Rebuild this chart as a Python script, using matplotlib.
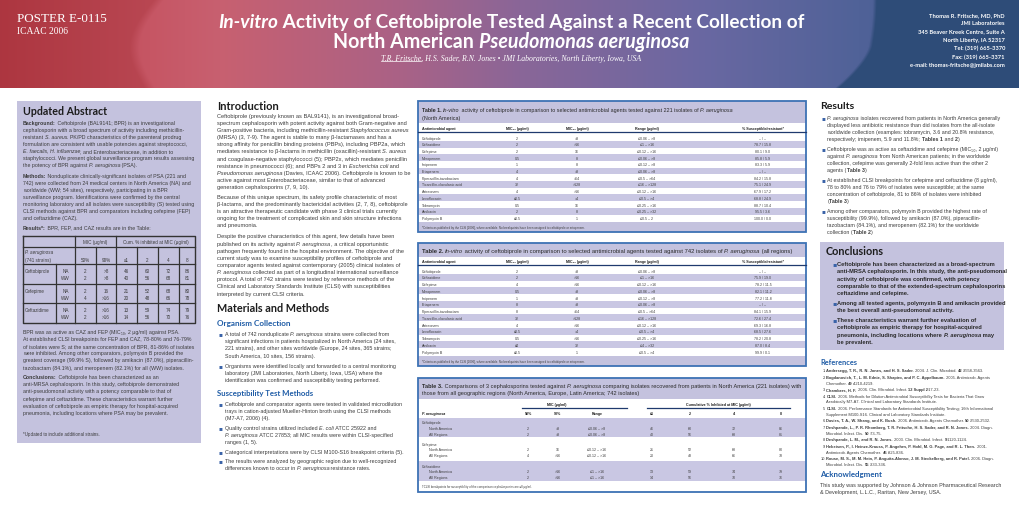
import matplotlib
matplotlib.use('Agg')
import matplotlib.pyplot as plt
import numpy as np
from matplotlib.patches import Rectangle

# ---------------- data ----------------
agents = ['Ceftobiprole', 'Ceftazidime', 'Cefepime', 'Meropenem', 'Imipenem', 'Ertapenem',
          'Piperacillin-tazobactam', 'Ticarcillin-clavulanic acid', 'Aztreonam', 'Levofloxacin',
          'Tobramycin', 'Amikacin', 'Polymyxin B']
t1_mic50 = ['2', '2', '2', '0.5', '1', '4', '4', '32', '4', '≤0.5', '0.5', '2', '≤0.5']
t1_mic90 = ['>8', '>16', '16', '8', '8', '>8', '>64', '>128', '>16', '>4', '16', '8', '1']
t1_range = ['≤0.06 – >8', '≤1 – >16', '≤0.12 – >16', '≤0.06 – >8', '≤0.12 – >8', '≤0.06 – >8',
            '≤0.5 – >64', '≤16 – >128', '≤0.12 – >16', '≤0.5 – >4', '≤0.25 – >16', '≤0.25 – >32', '≤0.5 – 2']
t1_sr = ['– / –', '78.7 / 15.8', '80.1 / 9.0', '85.8 / 5.9', '83.3 / 5.9', '– / –', '84.2 / 15.8',
         '75.1 / 24.9', '67.9 / 17.2', '68.8 / 24.9', '88.7 / 10.4', '95.5 / 3.6', '100.0 / 0.0']
t2_mic50 = ['2', '2', '4', '0.5', '1', '8', '8', '32', '4', '≤0.5', '0.5', '≤4', '≤0.5']
t2_mic90 = ['>8', '>16', '>16', '>8', '>8', '>8', '>64', '>128', '>16', '>4', '>16', '32', '1']
t2_range = ['≤0.06 – >8', '≤1 – >16', '≤0.12 – >16', '≤0.06 – >8', '≤0.12 – >8', '≤0.06 – >8',
            '≤0.5 – >64', '≤16 – >128', '≤0.12 – >16', '≤0.5 – >4', '≤0.25 – >16', '≤4 – >32', '≤0.5 – >4']
t2_sr = ['– / –', '75.9 / 19.0', '78.2 / 11.5', '82.1 / 11.2', '77.2 / 11.8', '– / –', '84.1 / 15.9',
         '72.6 / 27.4', '69.3 / 16.8', '68.5 / 27.6', '78.2 / 20.8', '87.0 / 8.4', '99.9 / 0.1']

t3_drugs = ['Ceftobiprole', 'Cefepime', 'Ceftazidime']
t3_regions = ['North America', 'All Regions']
abs_regions = ['NA', 'WW']
t3_mic50 = [['2', '2'], ['2', '4'], ['2', '2']]
t3_mic90 = [['>8', '>8'], ['16', '>16'], ['>16', '>16']]
t3_range = [['≤0.06 – >8', '≤0.06 – >8'], ['≤0.12 – >16', '≤0.12 – >16'], ['≤1 – >16', '≤1 – >16']]
cum_levels = ['≤1', '2', '4', '8']
t3_cum = [[[46, 60, 72, 86], [40, 56, 68, 81]],
          [[21, 52, 68, 80], [20, 48, 66, 78]],
          [[13, 59, 74, 79], [14, 56, 70, 76]]]

# ---------------- canvas ----------------
W, H = 1020, 510
fig = plt.figure(figsize=(10.2, 5.1), dpi=100)
fig.patch.set_facecolor('white')
ax = fig.add_axes([0, 0, 1, 1])
ax.set_xlim(0, W)
ax.set_ylim(H, 0)
ax.axis('off')
R = fig.canvas.get_renderer()

BODY = ['Liberation Sans', 'DejaVu Sans']
HEAD = ['Lato', 'DejaVu Sans']
SERIF = ['Liberation Serif', 'DejaVu Serif']
TXT = '#3c3c3c'
DARK = '#1c1c1c'
BLUE = '#1f5ca6'
LAV = '#c4c2de'
LAV2 = '#c9c7e3'
NAVY = '#1f3a6e'
EDGE = '#3d72b4'


def parse(s, bold=False, italic=False):
    runs, cur, b, i = [], '', bold, italic
    for ch in s:
        if ch in '_^':
            if cur:
                runs.append((cur, b, i))
            cur = ''
            if ch == '_':
                i = not i
            else:
                b = not b
        else:
            cur += ch
    if cur:
        runs.append((cur, b, i))
    return runs


def kw(b, i):
    return dict(fontweight='bold' if b else 'normal', fontstyle='italic' if i else 'normal')


def width_of(t, size, family, b, i):
    tt = ax.text(0, 0, t + '|', fontsize=size, family=family, **kw(b, i))
    w1 = tt.get_window_extent(R).width
    tt.set_text('|')
    w2 = tt.get_window_extent(R).width
    tt.remove()
    return w1 - w2


def fit_size(s, width, family=BODY, bold=False, italic=False, size0=10.0):
    runs = parse(s, bold, italic)
    tot = sum(width_of(t, size0, family, b, i) for t, b, i in runs)
    return size0 * width / tot


def draw(x, y, s, size, family=BODY, color=TXT, ha='left', bold=False, italic=False, width=None):
    runs = parse(s, bold, italic)
    if width is not None:
        size = fit_size(s, width, family, bold, italic)
    ws = [width_of(t, size, family, b, i) for t, b, i in runs]
    tot = sum(ws)
    x0 = x - tot / 2 if ha == 'center' else (x - tot if ha == 'right' else x)
    yb = y + 0.30 * size * 100 / 72
    cx = x0
    for (t, b, i), w in zip(runs, ws):
        ax.text(cx, yb, t, fontsize=size, family=family, color=color, va='baseline', ha='left', **kw(b, i))
        cx += w
    return x0, cx, size


def block(x, y0, lines, size, step, **k):
    y = y0
    for ln in lines:
        draw(x, y, ln, size, **k)
        y += step
    return y


# ---------------- header ----------------
HH = 89
xs = np.arange(W) + 0.5
stops_x = [0, 150, 220, 400, 520, 700, 860, 1020]
stops_c = [(184, 66, 78), (198, 86, 100), (200, 96, 112), (170, 98, 134), (138, 102, 152),
           (106, 104, 162), (80, 98, 152), (64, 90, 142)]
img = np.zeros((HH, W, 3))
for ch in range(3):
    img[:, :, ch] = np.interp(xs, stops_x, [c[ch] for c in stops_c])[None, :]
yy, xx = np.mgrid[0:HH, 0:W] + 0.5
# left reddish photo area
lb = 165 - 20 * np.sin(np.pi * yy / HH) - 10 * (yy / HH)
mL = np.clip((lb - xx) / 10, 0, 1)
img = img * (1 - mL[..., None] * 0.18) + mL[..., None] * np.array([22, 0, 0])
# right dark blue photo area
rb = np.where(yy < 45, 873 - 4 * (yy / 45) ** 2,
              869 - 34 * (np.clip(yy - 45, 0, None) / 44) ** 1.5)
mR = np.clip((xx - rb) / 4, 0, 1)
blue_dark = np.array([46, 76, 120])
img = img * (1 - mR[..., None]) + mR[..., None] * blue_dark
ax.imshow(np.clip(img, 0, 255).astype(np.uint8), extent=[0, W, HH, 0], aspect='auto',
          interpolation='bilinear', zorder=0)
ax.set_xlim(0, W)
ax.set_ylim(H, 0)

draw(17, 18, 'POSTER E-0115', 10, family=SERIF, color='white', width=90)
draw(17, 31.5, 'ICAAC 2006', 7, family=SERIF, color='white', width=51)
draw(511, 22, '_In-vitro_ Activity of Ceftobiprole Tested Against a Recent Collection of', 12,
     family=HEAD, color='white', bold=True, ha='center', width=588)
draw(511, 42, 'North American _Pseudomonas aeruginosa_', 12, family=HEAD, color='white',
     bold=True, ha='center', width=355)
ax0, ax1, asz = draw(511, 58.5, 'T.R. Fritsche, H.S. Sader, R.N. Jones • JMI Laboratories, North Liberty, Iowa, USA',
                     6, family=SERIF, color='white', italic=True, ha='center', width=258)
uw = width_of('T.R. Fritsche', asz, SERIF, False, True)
ax.plot([ax0, ax0 + uw], [61.5, 61.5], color='white', lw=0.5)

contact = ['Thomas R. Fritsche, MD, PhD', 'JMI Laboratories', '345 Beaver Kreek Centre, Suite A',
           'North Liberty, IA 52317', 'Tel: (319) 665-3370', 'Fax: (319) 665-3371',
           'e-mail: thomas-fritsche@jmilabs.com']
csz = fit_size(contact[2], 87, HEAD, bold=True)
for k, ln in enumerate(contact):
    draw(1005, 15 + 8.4 * k, ln, csz, family=HEAD, color='white', bold=True, ha='right')

# ---------------- abstract box ----------------
ax.add_patch(Rectangle((17, 102), 184, 342, facecolor=LAV, edgecolor='none', zorder=0))
draw(23, 112, 'Updated Abstract', 8, family=HEAD, color=DARK, bold=True, width=84)
asz = fit_size('staphylococci. We present global surveillance program results assessing', 171)
bg = ['^Background:^ Ceftobiprole (BAL9141; BPR) is an investigational',
      'cephalosporin with a broad spectrum of activity including methicillin-',
      'resistant _S. aureus_. PK/PD characteristics of the parenteral prodrug',
      'formulation are consistent with usable potencies against streptococci,',
      '_E. faecalis_, _H. influenzae_, and Enterobacteriaceae, in addition to',
      'staphylococci. We present global surveillance program results assessing',
      'the potency of BPR against _P. aeruginosa_ (PSA).']
block(23, 123, bg, asz, 7.15)
me = ['^Methods:^ Nonduplicate clinically-significant isolates of PSA (221 and',
      '742) were collected from 24 medical centers in North America (NA) and',
      'worldwide (WW; 54 sites), respectively, participating in a BPR',
      'surveillance program. Identifications were confirmed by the central',
      'monitoring laboratory and all isolates were susceptibility (S) tested using',
      'CLSI methods against BPR and comparators including cefepime (FEP)',
      'and ceftazidime (CAZ).']
block(23, 176, me, asz, 7.15)
draw(23, 228, '^Results*:^ BPR, FEP, and CAZ results are in the Table:', asz)

# abstract table
tx = [23, 56, 75, 96, 116, 137, 158, 179, 195]
ty = [237, 247.5, 265, 284.5, 304, 324]
lc = '#333333'
tsz = asz * 0.88
ax.plot([tx[0], tx[-1], tx[-1], tx[0], tx[0]], [ty[0], ty[0], ty[-1], ty[-1], ty[0]], color=lc, lw=1.0)
for yv in ty[1:-1]:
    ax.plot([tx[0], tx[-1]], [yv, yv], color=lc, lw=0.9)
for xv in [tx[2], tx[4]]:
    ax.plot([xv, xv], [ty[0], ty[-1]], color=lc, lw=0.9)
for xv in [tx[3], tx[5], tx[6], tx[7]]:
    ax.plot([xv, xv], [ty[1], ty[-1]], color=lc, lw=0.9)
ax.plot([tx[1], tx[1]], [ty[2], ty[-1]], color=lc, lw=0.9)
draw((tx[2] + tx[4]) / 2, 242.5, 'MIC (µg/ml)', tsz, ha='center')
draw((tx[4] + tx[-1]) / 2, 242.5, 'Cum. % inhibited at MIC (µg/ml)', tsz, ha='center')
draw(25, 253, '_P. aeruginosa_', tsz)
draw(25, 260.5, '(741 strains)', tsz)
hdrs = ['50%', '90%'] + cum_levels
for c, h in enumerate(hdrs):
    draw((tx[2 + c] + tx[3 + c]) / 2, 260.5, h, tsz, ha='center')
for g, drug in enumerate(t3_drugs):
    for r in range(2):
        yv = ty[2 + g] + 7 + 6.8 * r
        if r == 0:
            draw(25, yv, drug, tsz)
        draw((tx[1] + tx[2]) / 2, yv, abs_regions[r], tsz, ha='center')
        vals = [t3_mic50[g][r], t3_mic90[g][r]] + [str(v) for v in t3_cum[g][r]]
        for c, v in enumerate(vals):
            draw((tx[2 + c] + tx[3 + c]) / 2, yv, v, tsz, ha='center')

ab2 = ['BPR was as active as CAZ and FEP (MIC₅₀, 2 µg/ml) against PSA.',
       'At established CLSI breakpoints for FEP and CAZ, 78-80% and 76-79%',
       'of isolates were S; at the same concentration of BPR, 81-86% of isolates',
       'were inhibited. Among other comparators, polymyxin B provided the',
       'greatest coverage (99.9% S), followed by amikacin (87.0%), piperacillin-',
       'tazobactam (84.1%), and meropenem (82.1%) for all (WW) isolates.']
block(23, 332, ab2, asz, 7.2)
co = ['^Conclusions:^ Ceftobiprole has been characterized as an',
      'anti-MRSA cephalosporin. In this study, ceftobiprole demonstrated',
      'anti-pseudomonal activity with a potency comparable to that of',
      'cefepime and ceftazidime. These characteristics warrant further',
      'evaluation of ceftobiprole as empiric therapy for hospital-acquired',
      'pneumonia, including locations where PSA may be prevalent.']
block(23, 377.5, co, asz, 7.2)
draw(23, 435, '*Updated to include additional strains.', asz * 0.85)

# ---------------- introduction ----------------
draw(217, 107, 'Introduction', 8, family=HEAD, color=DARK, bold=True, width=62)
isz = fit_size('spectrum cephalosporin with potent activity against both Gram-negative and', 190)
p1 = ['Ceftobiprole (previously known as BAL9141), is an investigational broad-',
      'spectrum cephalosporin with potent activity against both Gram-negative and',
      'Gram-positive bacteria, including methicillin-resistant _Staphylococcus aureus_',
      '(MRSA) (3, 7-9). The agent is stable to many β-lactamases and has a',
      'strong affinity for penicillin binding proteins (PBPs), including PBP2a, which',
      'mediates resistance to β-lactams in methicillin (oxacillin)-resistant _S. aureus_',
      'and coagulase-negative staphylococci (5); PBP2x, which mediates penicillin',
      'resistance in pneumococci (6); and PBPs 2 and 3 in _Escherichia coli_ and',
      '_Pseudomonas aeruginosa_ (Davies, ICAAC 2006). Ceftobiprole is known to be',
      'active against most Enterobacteriaceae, similar to that of advanced',
      'generation cephalosporins (7, 9, 10).']
p2 = ['Because of this unique spectrum, its safety profile characteristic of most',
      'β-lactams, and the predominantly bactericidal activities (2, 7, 8), ceftobiprole',
      'is an attractive therapeutic candidate with phase 3 clinical trials currently',
      'ongoing for the treatment of complicated skin and skin structure infections',
      'and pneumonia.']
p3 = ['Despite the positive characteristics of this agent, few details have been',
      'published on its activity against _P. aeruginosa_, a critical opportunistic',
      'pathogen frequently found in the hospital environment. The objective of the',
      'current study was to examine susceptibility profiles of ceftobiprole and',
      'comparator agents tested against contemporary (2005) clinical isolates of',
      '_P. aeruginosa_ collected as part of a longitudinal international surveillance',
      'protocol. A total of 742 strains were tested by reference methods of the',
      'Clinical and Laboratory Standards Institute (CLSI) with susceptibilities',
      'interpreted by current CLSI criteria.']
block(217, 116, p1, isz, 7.15)
block(217, 197.2, p2, isz, 7.15)
block(217, 236.7, p3, isz, 7.15)

# ---------------- materials and methods ----------------
draw(217, 309, 'Materials and Methods', 8, family=HEAD, color=DARK, bold=True, width=112)
draw(217, 324, 'Organism Collection', 7, family=HEAD, color=BLUE, bold=True, width=74)
msz = fit_size('significant infections in patients hospitalized in North America (24 sites,', 168)


def bullets(xb, xt, items, size, step, gap, y0, color=TXT, bold=False, bcolor='#3a63a8', bsize=None):
    y = y0
    for item in items:
        draw(xb, y, '▪', bsize or size * 1.1, family=['DejaVu Sans'], color=bcolor)
        for ln in item:
            draw(xt, y, ln, size, color=color, bold=bold)
            y += step
        y += gap
    return y


mm1 = [['A total of 742 nonduplicate _P. aeruginosa_ strains were collected from',
        'significant infections in patients hospitalized in North America (24 sites,',
        '221 strains), and other sites worldwide (Europe, 24 sites, 365 strains;',
        'South America, 10 sites, 156 strains).'],
       ['Organisms were identified locally and forwarded to a central monitoring',
        'laboratory (JMI Laboratories, North Liberty, Iowa, USA) where the',
        'identification was confirmed and susceptibility testing performed.']]
bullets(218.5, 225, mm1, msz, 7.15, 2.9, 334.5)
draw(217, 394, 'Susceptibility Test Methods', 7, family=HEAD, color=BLUE, bold=True, width=97)
mm2 = [['Ceftobiprole and comparator agents were tested in validated microdilution',
        'trays in cation-adjusted Mueller-Hinton broth using the CLSI methods',
        '(M7-A7, 2006) (4).'],
       ['Quality control strains utilized included _E. coli_ ATCC 25922 and',
        '_P. aeruginosa_ ATCC 27853; all MIC results were within CLSI-specified',
        'ranges (1, 5).'],
       ['Categorical interpretations were by CLSI M100-S16 breakpoint criteria (5).'],
       ['The results were analyzed by geographic region due to well-recognized',
        'differences known to occur in _P. aeruginosa_ resistance rates.']]
bullets(218.5, 225, mm2, msz, 7.15, 2.5, 404)

# ---------------- tables 1 and 2 ----------------
TX0, TX1 = 418, 806
col_c = [517, 577, 647, 763]
ttsz = fit_size('Piperacillin-tazobactam', 38)


def table12(y0, y1, band_bot, title_lines, title_w, hdr_y, row_y0, row_step, mic50, mic90, rng, sr, foot_top):
    ax.add_patch(Rectangle((TX0, y0), TX1 - TX0, band_bot - y0, facecolor=LAV, edgecolor='none'))
    ax.add_patch(Rectangle((TX0, foot_top), TX1 - TX0, y1 - foot_top, facecolor=LAV, edgecolor='none'))
    tsz_ = fit_size(title_lines[0][0], title_w)
    for ln, yv in title_lines:
        draw(422, yv, ln, tsz_, color='#2a2a2a')
    draw(422, hdr_y, 'Antimicrobial agent', ttsz, color=DARK, bold=True)
    hl = ['MIC₅₀ (µg/ml)', 'MIC₉₀ (µg/ml)', 'Range (µg/ml)', '% Susceptible/resistant*']
    for c, h in zip(col_c, hl):
        draw(c, hdr_y, h, ttsz, color=DARK, bold=True, ha='center')
    ax.plot([TX0, TX1], [hdr_y + 4, hdr_y + 4], color=NAVY, lw=0.9)
    for i, ag in enumerate(agents):
        yv = row_y0 + i * row_step
        if i % 2 == 1:
            ax.add_patch(Rectangle((TX0, yv - row_step / 2), TX1 - TX0, row_step, facecolor=LAV2,
                                   edgecolor='none'))
        draw(422, yv, ag, ttsz)
        for c, v in zip(col_c, [mic50[i], mic90[i], rng[i], sr[i]]):
            draw(c, yv, v, ttsz, ha='center')
    draw(422, (foot_top + y1) / 2,
         '*Criteria as published by the CLSI [2006], where available. No breakpoints have been assigned to ceftobiprole or ertapenem.',
         ttsz * 0.8)
    ax.add_patch(Rectangle((TX0, y0), TX1 - TX0, y1 - y0, facecolor='none', edgecolor=EDGE, lw=1.3))


table12(102, 233, 123.5,
        [('^Table 1.^ _In-vitro_ activity of ceftobiprole in comparison to selected antimicrobial agents tested against 221 isolates of _P. aeruginosa_', 110),
         ('(North America)', 118)],
        311, 129, 138.5, 6.7, t1_mic50, t1_mic90, t1_range, t1_sr, 222.5)
table12(244, 367, 257.5,
        [('^Table 2.^ _In-vitro_ activity of ceftobiprole in comparison to selected antimicrobial agents tested against 742 isolates of _P. aeruginosa_ (all regions)', 251)],
        367, 262, 271.5, 6.75, t2_mic50, t2_mic90, t2_range, t2_sr, 356.5)

# ---------------- table 3 ----------------
T3Y0, T3Y1 = 379, 493
ax.add_patch(Rectangle((TX0, T3Y0), TX1 - TX0, 21, facecolor=LAV, edgecolor='none'))
l1 = '^Table 3.^ Comparisons of 3 cephalosporins tested against _P. aeruginosa_ comparing isolates recovered from patients in North America (221 isolates) with'
t3sz = fit_size(l1, 376)
draw(422, 386, l1, t3sz, color='#2a2a2a')
draw(422, 393.5, 'those from all geographic regions (North America, Europe, Latin America; 742 isolates)', t3sz, color='#2a2a2a')
draw(557, 405, 'MIC (µg/ml)', ttsz, color=DARK, bold=True, ha='center')
draw(718, 405, 'Cumulative % Inhibited at MIC (µg/ml)', ttsz, color=DARK, bold=True, ha='center')
ax.plot([522, 627], [408.7, 408.7], color=NAVY, lw=0.9)
ax.plot([647, 790], [408.7, 408.7], color=NAVY, lw=0.9)
c3 = [528, 558, 597, 652, 690, 734, 781]
draw(422, 413.5, '_P. aeruginosa_', ttsz, color=DARK, bold=True)
for c, h in zip(c3, ['50%', '90%', 'Range'] + cum_levels):
    draw(c, 413.5, h, ttsz, color=DARK, bold=True, ha='center')
g_top = [418.5, 440, 462]
for g, drug in enumerate(t3_drugs):
    if g % 2 == 0:
        ax.add_patch(Rectangle((TX0, g_top[g]), TX1 - TX0, 19.5, facecolor=LAV2, edgecolor='none'))
    yg = g_top[g] + 4.5
    draw(422, yg, drug, ttsz)
    for r in range(2):
        yv = yg + 5.8 * (r + 1)
        draw(429, yv, t3_regions[r], ttsz)
        vals = [t3_mic50[g][r], t3_mic90[g][r], t3_range[g][r]] + [str(v) for v in t3_cum[g][r]]
        for c, v in zip(c3, vals):
            draw(c, yv, v, ttsz, ha='center')
draw(422, 487, '†CLSI breakpoints for susceptibility of the comparison cephalosporins are ≤8 µg/ml.', ttsz * 0.8)
ax.add_patch(Rectangle((TX0, T3Y0), TX1 - TX0, T3Y1 - T3Y0, facecolor='none', edgecolor=EDGE, lw=1.3))

# ---------------- results ----------------
draw(820, 106, 'Results', 8, family=HEAD, color=DARK, bold=True, width=34)
rsz = fit_size('_P. aeruginosa_ isolates recovered from patients in North America generally', 172)
res = [['_P. aeruginosa_ isolates recovered from patients in North America generally',
        'displayed less antibiotic resistance than did isolates from the all-isolate',
        'worldwide collection (examples: tobramycin, 3.6 and 20.8% resistance,',
        'respectively; imipenem, 5.9 and 11.8%; ^Tables 1^ and ^2^).'],
       ['Ceftobiprole was as active as ceftazidime and cefepime (MIC₅₀, 2 µg/ml)',
        'against _P. aeruginosa_ from North American patients; in the worldwide',
        'collection, cefepime was generally 2-fold less active than the other 2',
        'agents (^Table 3^).'],
       ['At established CLSI breakpoints for cefepime and ceftazidime (8 µg/ml),',
        '78 to 80% and 76 to 79% of isolates were susceptible; at the same',
        'concentration of ceftobiprole, 81 to 86% of isolates were inhibited',
        '(^Table 3^).'],
       ['Among other comparators, polymyxin B provided the highest rate of',
        'susceptibility (99.9%), followed by amikacin (87.0%), piperacillin-',
        'tazobactam (84.1%), and meropenem (82.1%) for the worldwide',
        'collection (^Table 2^).']]
bullets(821, 827.5, res, rsz, 7.0, 3.0, 118)

# ---------------- conclusions ----------------
ax.add_patch(Rectangle((820, 243), 184, 108, facecolor=LAV, edgecolor='none'))
draw(826, 252, 'Conclusions', 8, family=HEAD, color=DARK, bold=True, width=58)
csz2 = fit_size('Ceftobiprole has been characterized as a broad-spectrum', 157, bold=True)
conc = [['Ceftobiprole has been characterized as a broad-spectrum',
         'anti-MRSA cephalosporin. In this study, the anti-pseudomonal',
         'activity of ceftobiprole was confirmed, with potency',
         'comparable to that of the extended-spectrum cephalosporins',
         'ceftazidime and cefepime.'],
        ['Among all tested agents, polymyxin B and amikacin provided',
         'the best overall anti-pseudomonal activity.'],
        ['These characteristics warrant further evaluation of',
         'ceftobiprole as empiric therapy for hospital-acquired',
         'pneumonia, including locations where _P. aeruginosa_ may',
         'be prevalent.']]
bullets(832.5, 837.5, conc, csz2, 7.2, 2.8, 264.5, color='#2a2a2a', bold=True)

# ---------------- references ----------------
draw(820, 363, 'References', 7, family=HEAD, color=BLUE, bold=True, width=37)
refsz = fit_size('^Andersegg, T. R., R. N. Jones, and H. S. Sader.^ 2004. J. Clin. Microbiol. ^42^:3558-3563.', 158)
refs = [['^Andersegg, T. R., R. N. Jones, and H. S. Sader.^ 2004. J. Clin. Microbiol. ^42^:3558-3563.'],
        ['^Bogdanovich, T., L. M. Ednie, S. Shapiro, and P. C. Appelbaum.^ 2005. Antimicrob. Agents',
         'Chemother. ^49^:4210-4219.'],
        ['^Chambers, H. F.^ 2006. Clin. Microbiol. Infect. ^12 Suppl 2^:17-23.'],
        ['^CLSI.^ 2006. Methods for Dilution Antimicrobial Susceptibility Tests for Bacteria That Grow',
         'Aerobically M7-A7. Clinical and Laboratory Standards Institute.'],
        ['^CLSI.^ 2006. Performance Standards for Antimicrobial Susceptibility Testing; 16th Informational',
         'Supplement M100-S16. Clinical and Laboratory Standards Institute.'],
        ['^Davies, T. A., W. Shang, and K. Bush.^ 2006. Antimicrob. Agents Chemother. ^50^:2530-2532.'],
        ['^Deshpande, L., P. R. Rhomberg, T. R. Fritsche, H. S. Sader, and R. N. Jones.^ 2004. Diagn.',
         'Microbiol. Infect. Dis. ^50^:73-75.'],
        ['^Deshpande, L. M., and R. N. Jones.^ 2003. Clin. Microbiol. Infect. ^9^:1120-1124.'],
        ['^Hebeisen, P., I. Heinze-Krauss, P. Angehrn, P. Hohl, M. G. Page, and R. L. Then.^ 2001.',
         'Antimicrob. Agents Chemother. ^45^:825-836.'],
        ['^Rouse, M. S., M. M. Hein, P. Anguita-Alonso, J. M. Steckelberg, and R. Patel.^ 2006. Diagn.',
         'Microbiol. Infect. Dis. ^55^:333-336.']]
y = 371
for n, ref in enumerate(refs):
    draw(826, y, f'{n + 1}.', refsz, ha='right')
    for ln in ref:
        draw(826.5, y, ln, refsz)
        y += 5.7
    y += 0.9

draw(820, 475, 'Acknowledgment', 7, family=HEAD, color=BLUE, bold=True, width=62)
acsz = fit_size('This study was supported by Johnson & Johnson Pharmaceutical Research', 180)
draw(820, 485, 'This study was supported by Johnson & Johnson Pharmaceutical Research', acsz)
draw(820, 492.5, '& Development, L.L.C., Raritan, New Jersey, USA.', acsz)

fig.savefig('out.png', dpi=100, facecolor='white')
